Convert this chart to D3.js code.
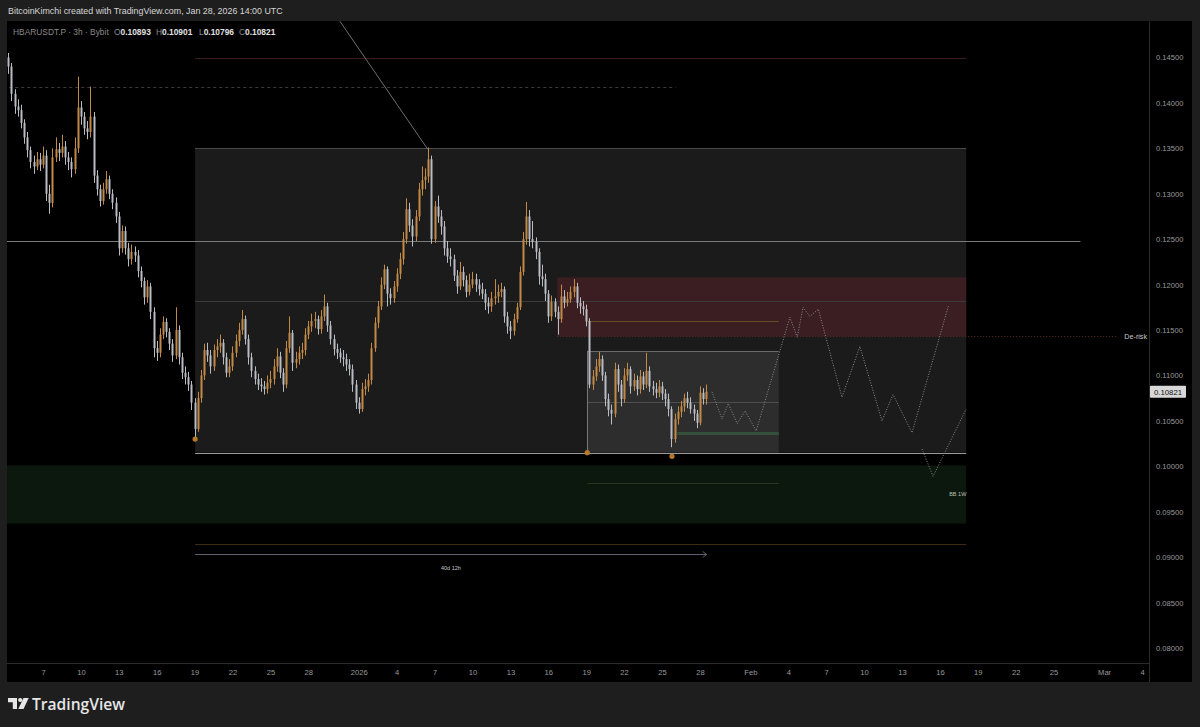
<!DOCTYPE html>
<html><head><meta charset="utf-8">
<script src="https://cdn.jsdelivr.net/npm/d3@7"></script>
<style>html,body{margin:0;padding:0;background:#1e1e1e;overflow:hidden}svg{display:block}</style>
</head><body><svg id="c" width="1200" height="727"></svg>
<script>
// ---------- DATA ----------
const barStart = "2025-12-04T06:00Z";
const barHours = 6;
const firstOpen = 0.1450;
const closes = [
.1440,.1410,.1396,.1392,.1378,.1362,.1348,.1335,.1330,.1338,
.1332,.1342,.1300,.1290,.1340,.1349,.1345,.1352,.1340,.1335,
.1327,.1350,.1395,.1385,.1372,.1368,.1385,.1320,.1305,.1292,
.1305,.1316,.1300,.1290,.1275,.1240,.1259,.1240,.1228,.1236,
.1232,.1215,.1204,.1186,.1198,.1170,.1130,.1125,.1145,.1159,
.1148,.1135,.1122,.1150,.1120,.1103,.1098,.1090,.1070,.1041,
.1075,.1100,.1128,.1122,.1110,.1128,.1132,.1136,.1120,.1103,
.1110,.1125,.1138,.1150,.1162,.1140,.1120,.1105,.1096,.1090,
.1088,.1085,.1092,.1096,.1110,.1121,.1103,.1090,.1130,.1147,
.1114,.1118,.1125,.1128,.1145,.1154,.1160,.1162,.1151,.1165,
.1176,.1155,.1140,.1129,.1125,.1120,.1118,.1112,.1107,.1090,
.1070,.1063,.1085,.1088,.1095,.1130,.1158,.1176,.1200,.1217,
.1190,.1185,.1198,.1212,.1228,.1250,.1283,.1265,.1253,.1275,
.1305,.1315,.1319,.1338,.1250,.1286,.1275,.1264,.1240,.1231,
.1228,.1210,.1198,.1214,.1205,.1192,.1200,.1206,.1200,.1195,
.1190,.1180,.1176,.1185,.1187,.1192,.1195,.1165,.1154,.1149,
.1162,.1175,.1214,.1250,.1275,.1250,.1247,.1236,.1209,.1206,
.1190,.1165,.1181,.1170,.1162,.1187,.1180,.1184,.1192,.1198,
.1180,.1176,.1173,.1160,.1090,.1099,.1110,.1118,.1100,.1074,
.1062,.1058,.1107,.1090,.1074,.1100,.1107,.1088,.1095,.1085,
.1099,.1090,.1105,.1088,.1085,.1081,.1088,.1080,.1074,.1063,
.1030,.1052,.1060,.1066,.1075,.1070,.1063,.1058,.1048,.1081,
.1074,.10821];
const highs = [
.1455,.1444,.1415,.1404,.1398,.1382,.1368,.1352,.1342,.1346,
.1345,.1352,.1348,.1310,.1350,.1362,.1356,.1365,.1358,.1346,
.1340,.1362,.1429,.1402,.1390,.1380,.1418,.1390,.1326,.1310,
.1312,.1325,.1320,.1305,.1296,.1280,.1265,.1264,.1246,.1244,
.1242,.1238,.1220,.1208,.1205,.1202,.1175,.1138,.1152,.1165,
.1163,.1152,.1140,.1175,.1155,.1125,.1110,.1104,.1094,.1075,
.1082,.1106,.1135,.1136,.1128,.1134,.1140,.1145,.1140,.1125,
.1118,.1132,.1145,.1158,.1172,.1166,.1145,.1125,.1110,.1102,
.1097,.1094,.1100,.1105,.1118,.1130,.1126,.1108,.1138,.1165,
.1150,.1126,.1132,.1136,.1152,.1160,.1168,.1170,.1166,.1172,
.1189,.1180,.1160,.1145,.1135,.1130,.1128,.1124,.1118,.1112,
.1095,.1076,.1092,.1096,.1102,.1136,.1164,.1182,.1208,.1222,
.1220,.1196,.1204,.1218,.1235,.1258,.1295,.1290,.1272,.1282,
.1312,.1330,.1328,.1351,.1342,.1292,.1298,.1282,.1270,.1248,
.1240,.1233,.1216,.1225,.1220,.1210,.1212,.1214,.1212,.1206,
.1202,.1195,.1186,.1192,.1206,.1200,.1202,.1198,.1170,.1160,
.1168,.1180,.1220,.1258,.1291,.1282,.1270,.1252,.1240,.1222,
.1212,.1194,.1188,.1185,.1176,.1200,.1194,.1192,.1198,.1206,
.1202,.1186,.1182,.1178,.1163,.1106,.1118,.1126,.1122,.1104,
.1080,.1068,.1114,.1112,.1095,.1108,.1114,.1110,.1102,.1100,
.1106,.1104,.1125,.1110,.1094,.1092,.1095,.1093,.1085,.1080,
.1066,.1058,.1066,.1072,.1080,.1082,.1076,.1068,.1062,.1088,
.1086,.1090];
const lows = [
.1432,.1402,.1388,.1385,.1372,.1355,.1340,.1328,.1322,.1326,
.1325,.1328,.1292,.1278,.1285,.1335,.1336,.1340,.1332,.1326,
.1318,.1322,.1345,.1376,.1365,.1360,.1362,.1312,.1298,.1286,
.1288,.1300,.1294,.1283,.1268,.1232,.1235,.1233,.1220,.1222,
.1225,.1208,.1197,.1178,.1180,.1162,.1120,.1116,.1120,.1140,
.1142,.1128,.1115,.1118,.1112,.1096,.1090,.1083,.1062,.1032,
.1038,.1070,.1095,.1115,.1102,.1105,.1120,.1125,.1112,.1098,
.1098,.1105,.1120,.1132,.1145,.1134,.1112,.1098,.1090,.1084,
.1082,.1079,.1080,.1086,.1090,.1104,.1097,.1082,.1086,.1125,
.1105,.1108,.1112,.1118,.1122,.1140,.1148,.1152,.1145,.1146,
.1160,.1148,.1134,.1122,.1118,.1114,.1110,.1105,.1100,.1082,
.1063,.1058,.1060,.1078,.1082,.1090,.1126,.1152,.1172,.1195,
.1176,.1178,.1180,.1192,.1206,.1222,.1245,.1258,.1242,.1248,
.1270,.1298,.1305,.1312,.1245,.1246,.1268,.1255,.1232,.1224,
.1220,.1204,.1190,.1194,.1198,.1186,.1188,.1196,.1192,.1188,
.1184,.1172,.1168,.1170,.1178,.1180,.1186,.1158,.1146,.1140,
.1144,.1158,.1172,.1210,.1244,.1242,.1240,.1228,.1200,.1198,
.1182,.1158,.1160,.1164,.1145,.1158,.1174,.1176,.1180,.1186,
.1174,.1168,.1166,.1154,.1086,.1084,.1094,.1104,.1094,.1066,
.1055,.1046,.1054,.1082,.1066,.1070,.1094,.1080,.1083,.1078,
.1080,.1084,.1086,.1082,.1078,.1075,.1076,.1073,.1066,.1055,
.1021,.1026,.1046,.1054,.1060,.1064,.1058,.1050,.1042,.1045,
.1068,.1068];

const yTicks = [0.145,0.14,0.135,0.13,0.125,0.12,0.115,0.11,0.105,0.10,0.095,0.09,0.085,0.08];
const xTickDates = ["2025-12-07","2025-12-10","2025-12-13","2025-12-16","2025-12-19","2025-12-22","2025-12-25","2025-12-28",
  "2026-01-01","2026-01-04","2026-01-07","2026-01-10","2026-01-13","2026-01-16","2026-01-19","2026-01-22","2026-01-25","2026-01-28",
  "2026-02-01","2026-02-04","2026-02-07","2026-02-10","2026-02-13","2026-02-16","2026-02-19","2026-02-22","2026-02-25",
  "2026-03-01","2026-03-04"];
const xTickLabels = ["7","10","13","16","19","22","25","28","2026","4","7","10","13","16","19","22","25","28",
  "Feb","4","7","10","13","16","19","22","25","Mar","4"];

// drawings (time0, time1, price levels)
const boxMain   = ["2025-12-19T01:00Z","2026-02-18T02:00Z",0.1350,0.1015];
const zoneRed   = ["2026-01-16T17:00Z","2026-02-18T02:00Z",0.1208,0.1143];
const boxSmall  = ["2026-01-19T02:00Z","2026-02-03T06:00Z",0.1127,0.1015];
const zoneGreen = ["2025-12-01T00:00Z","2026-02-18T02:00Z",0.1001,0.0937];
const lineMid   = ["2025-12-01T00:00Z","2026-02-27T03:00Z",0.1248];
const lineDash  = ["2025-12-01T00:00Z","2026-01-26T02:00Z",0.1418];
const lineTop   = ["2025-12-19T01:00Z","2026-02-18T02:00Z",0.1449];
const lineBot   = ["2025-12-19T01:00Z","2026-02-18T02:00Z",0.0914];
const lineOrange= ["2026-01-18T22:00Z","2026-02-03T06:00Z",0.1160];
const lineGreenBar = ["2026-01-26T05:00Z","2026-02-03T06:00Z",0.1037];
const lineGreenIn  = ["2026-01-19T02:00Z","2026-02-03T06:00Z",0.0982];
const lineDerisk   = ["2026-01-16T17:00Z","2026-03-02T03:00Z",0.1143];
const derisk = ["De-risk","2026-03-03T12:00Z",0.1143];
const bbLabel = ["BB 1W","2026-02-17T10:00Z",0.0970];
const spanArrow = ["2025-12-19T01:00Z","2026-01-28T13:00Z",0.0903,"40d 12h"];
const trendLine = [["2025-12-30T12:00Z",0.1490],["2026-01-06T11:00Z",0.1349]];
const lowMarks = [["2025-12-19T01:00Z",0.1030],["2026-01-19T02:00Z",0.1015],["2026-01-25T19:00Z",0.1011]];
const projA = [
 ["2026-01-28T23:00Z",0.1082],["2026-01-29T18:00Z",0.1052],["2026-01-30T06:00Z",0.1069],
 ["2026-01-30T23:00Z",0.1047],["2026-01-31T14:00Z",0.1061],["2026-02-01T11:00Z",0.1039],
 ["2026-02-04T03:00Z",0.1164],["2026-02-04T17:00Z",0.1142],["2026-02-05T04:00Z",0.1175],
 ["2026-02-05T17:00Z",0.1165],["2026-02-06T09:00Z",0.1173],["2026-02-08T06:00Z",0.1076],
 ["2026-02-09T16:00Z",0.1132],["2026-02-11T10:00Z",0.1050],["2026-02-12T07:00Z",0.1079],
 ["2026-02-13T19:00Z",0.1037],["2026-02-16T16:00Z",0.1176]];
const projB = [["2026-02-14T14:00Z",0.1019],["2026-02-15T11:00Z",0.0989],["2026-02-18T02:00Z",0.1063]];
const headerText = "BitcoinKimchi created with TradingView.com, Jan 28, 2026 14:00 UTC";
const legendParts = [["HBARUSDT.P · 3h · Bybit",""],["O","0.10893"],["H","0.10901"],["L","0.10796"],["C","0.10821"]];
const lastPrice = 0.10821;

// ---------- LAYOUT ----------
const svg = d3.select("#c");
const P = {l:7, t:21, r:1149, b:663, axR:1192, axB:682};
const x = d3.scaleUtc().domain([new Date("2025-12-07T00:00Z"), new Date("2026-03-04T00:00Z")]).range([43,1142]);
const y = d3.scaleLinear().domain([0.08,0.145]).range([648,57.5]);
const T = s => new Date(s);
const font = "'Liberation Sans', Arial, sans-serif";
function fitWidth(sel, target){
  const fs = +sel.attr("font-size");
  const w = sel.node().getComputedTextLength();
  if (w>0) sel.attr("font-size", (fs*target/w).toFixed(2));
  return sel;
}

svg.append("rect").attr("width",1200).attr("height",727).attr("fill","#1e1e1e");
svg.append("rect").attr("x",P.l).attr("y",P.t).attr("width",P.axR-P.l).attr("height",P.axB-P.t).attr("fill","#000");

// header
fitWidth(svg.append("text").attr("x",8).attr("y",14).attr("fill","#d6d6d6").attr("font-family",font)
  .attr("font-size",10).text(headerText), 275);

const defs = svg.append("defs");
defs.append("clipPath").attr("id","plot").append("rect").attr("x",P.l).attr("y",P.t).attr("width",P.r-P.l).attr("height",P.b-P.t);
const g = svg.append("g").attr("clip-path","url(#plot)");

function rectZone(z, fill){
  g.append("rect").attr("x",x(T(z[0]))).attr("width",x(T(z[1]))-x(T(z[0])))
   .attr("y",y(z[2])).attr("height",y(z[3])-y(z[2])).attr("fill",fill);
}
function hline(l, stroke, w, dash){
  const ln = g.append("line").attr("x1",x(T(l[0]))).attr("x2",x(T(l[1])))
   .attr("y1",Math.round(y(l[2]))+0.5).attr("y2",Math.round(y(l[2]))+0.5)
   .attr("stroke",stroke).attr("stroke-width",w);
  if(dash) ln.attr("stroke-dasharray",dash);
}

// zones
rectZone(boxMain, "#1b1b1b");
rectZone(zoneGreen, "#0c180d");
rectZone(zoneRed, "#3a1e21");
rectZone(boxSmall, "#2d2d2d");

// box borders & midlines
hline([boxMain[0],boxMain[1],boxMain[2]], "#4a4a4a", 1);
hline([boxMain[0],boxMain[1],(boxMain[2]+boxMain[3])/2], "#3a3a3a", 1);
hline([boxSmall[0],boxSmall[1],boxSmall[2]], "#6a6a6a", 1);
hline([boxSmall[0],boxSmall[1],(boxSmall[2]+boxSmall[3])/2], "#4e4e4e", 1);
g.append("line").attr("x1",Math.round(x(T(boxSmall[0])))+0.5).attr("x2",Math.round(x(T(boxSmall[0])))+0.5)
  .attr("y1",y(boxSmall[2])).attr("y2",y(boxSmall[3])).attr("stroke","#777").attr("stroke-width",1);
hline([boxMain[0],boxMain[1],boxMain[3]], "#9a9a9a", 1);

hline(lineTop, "#3a1c1c", 1);
hline(lineBot, "#3f2a12", 1);
hline(lineDash, "#3a3a3a", 1, "3,3");
hline(lineOrange, "#6b4a26", 1);
hline(lineGreenBar, "#34503a", 3);
hline(lineGreenIn, "#26361f", 1);
hline(lineDerisk, "#5a2e2e", 1, "1,2");
hline(lineMid, "#7a7a7a", 1);

// trend line
g.append("line").attr("x1",x(T(trendLine[0][0]))).attr("y1",y(trendLine[0][1]))
  .attr("x2",x(T(trendLine[1][0]))).attr("y2",y(trendLine[1][1])).attr("stroke","#8a8a8a").attr("stroke-width",0.8);

// span arrow
const ax0 = x(T(spanArrow[0])), ax1 = x(T(spanArrow[1])), ay = Math.round(y(spanArrow[2]))+0.5;
g.append("line").attr("x1",ax0).attr("x2",ax1).attr("y1",ay).attr("y2",ay).attr("stroke","#5c6470").attr("stroke-width",1);
g.append("path").attr("d",`M${ax1-4},${ay-3}L${ax1},${ay}L${ax1-4},${ay+3}`).attr("fill","none").attr("stroke","#5c6470");
g.append("text").attr("x",(ax0+ax1)/2).attr("y",ay+15).attr("text-anchor","middle").attr("fill","#c8c8c8")
  .attr("font-family",font).attr("font-size",5.5).text(spanArrow[3]);

// candles
const t0 = T(barStart).getTime();
const candles = closes.map((c,i)=>({
  t:new Date(t0 + i*barHours*3600e3),
  o: i===0 ? firstOpen : closes[i-1], c,
  h: highs[i], l: lows[i]
}));
const cg = g.append("g");
candles.forEach(d=>{
  const up = d.c >= d.o;
  const col = up ? "#c38a45" : "#b9bcc2";
  const cx = Math.round(x(d.t));
  const hi = Math.max(d.h,d.o,d.c), lo = Math.min(d.l,d.o,d.c);
  cg.append("line").attr("x1",cx+0.5).attr("x2",cx+0.5).attr("y1",y(hi)).attr("y2",y(lo)).attr("stroke",col).attr("stroke-width",1);
  const yt = y(Math.max(d.o,d.c)), yb = y(Math.min(d.o,d.c));
  cg.append("rect").attr("x",cx-0.5).attr("width",2).attr("y",yt).attr("height",Math.max(1,yb-yt)).attr("fill",col);
});

// low markers
g.selectAll("circle.mk").data(lowMarks).enter().append("circle")
  .attr("cx",d=>x(T(d[0]))).attr("cy",d=>y(d[1])).attr("r",2.6).attr("fill","#b8782a");

// projections
const pl = d3.line().x(d=>x(T(d[0]))).y(d=>y(d[1]));
[projA, projB].forEach(p=>{
  g.append("path").attr("d",pl(p)).attr("fill","none").attr("stroke","#8c8c8c").attr("stroke-width",1).attr("stroke-dasharray","1,1.6");
});

// labels
svg.append("text").attr("x",x(T(derisk[1]))).attr("y",y(derisk[2])+2.5).attr("text-anchor","middle")
  .attr("fill","#c8c8c8").attr("font-family",font).attr("font-size",7.2).text(derisk[0]);
svg.append("text").attr("x",x(T(bbLabel[1]))).attr("y",y(bbLabel[2])+2).attr("text-anchor","middle")
  .attr("fill","#b8c0b8").attr("font-family",font).attr("font-size",5.5).text(bbLabel[0]);

// legend
const legPos = [13,114,156,199,239];
const legFirst = fitWidth(svg.append("text").attr("x",-500).attr("y",-50).attr("font-family",font).attr("font-size",9).text(legendParts[0][0]), 96);
const legFs = legFirst.attr("font-size"); legFirst.remove();
legendParts.forEach((p,i)=>{
  const t = svg.append("text").attr("x",legPos[i]).attr("y",34.5).attr("font-family",font).attr("font-size",legFs);
  t.append("tspan").attr("fill","#8a8a8a").text(p[0]);
  if(p[1]) t.append("tspan").attr("fill","#e0e0e0").attr("font-weight",600).text(p[1]);
});

// axes
svg.append("line").attr("x1",P.r+0.5).attr("x2",P.r+0.5).attr("y1",P.t).attr("y2",P.axB).attr("stroke","#2a2a2a");
svg.append("line").attr("x1",P.l).attr("x2",P.r).attr("y1",P.b+0.5).attr("y2",P.b+0.5).attr("stroke","#2a2a2a");
const yAxis = d3.axisRight(y).tickValues(yTicks).tickFormat(d3.format(".5f")).tickSize(0).tickPadding(0);
const ya = svg.append("g").attr("transform",`translate(${P.r+7},0)`).call(yAxis);
ya.select(".domain").remove();
ya.selectAll("text").attr("fill","#9a9a9a").attr("font-family",font).attr("font-size",7.6);

const xAxis = d3.axisBottom(x).tickValues(xTickDates.map(d=>new Date(d+"T00:00Z")))
  .tickFormat((d,i)=>xTickLabels[i]).tickSize(0).tickPadding(0);
const xa = svg.append("g").attr("transform",`translate(0,${P.b+6.5})`).call(xAxis);
xa.select(".domain").remove();
xa.selectAll("text").attr("fill","#9a9a9a").attr("font-family",font).attr("font-size",7.6);

// last price label
const ly = y(lastPrice);
svg.append("rect").attr("x",P.r+1).attr("y",ly-6).attr("width",36).attr("height",12).attr("rx",1).attr("fill","#d8d8d8");
svg.append("text").attr("x",P.r+19).attr("y",ly+2.8).attr("text-anchor","middle").attr("fill","#111")
  .attr("font-family",font).attr("font-size",7.8).text(d3.format(".5f")(lastPrice));

// TradingView logo
const lg = svg.append("g").attr("fill","#e6e6e6");
lg.append("path").attr("d","M8,698h9v11h-4.2v-6.8H8z");
lg.append("circle").attr("cx",20.2).attr("cy",700).attr("r",2.1);
lg.append("path").attr("d","M23.5,698h5.2l-5.2,11h-5.2z");
fitWidth(svg.append("text").attr("x",32).attr("y",710).attr("fill","#e6e6e6").attr("font-family","'Open Sans', 'Liberation Sans', sans-serif")
  .attr("font-weight",600).attr("font-size",16.5).text("TradingView"), 93);
</script></body></html>
